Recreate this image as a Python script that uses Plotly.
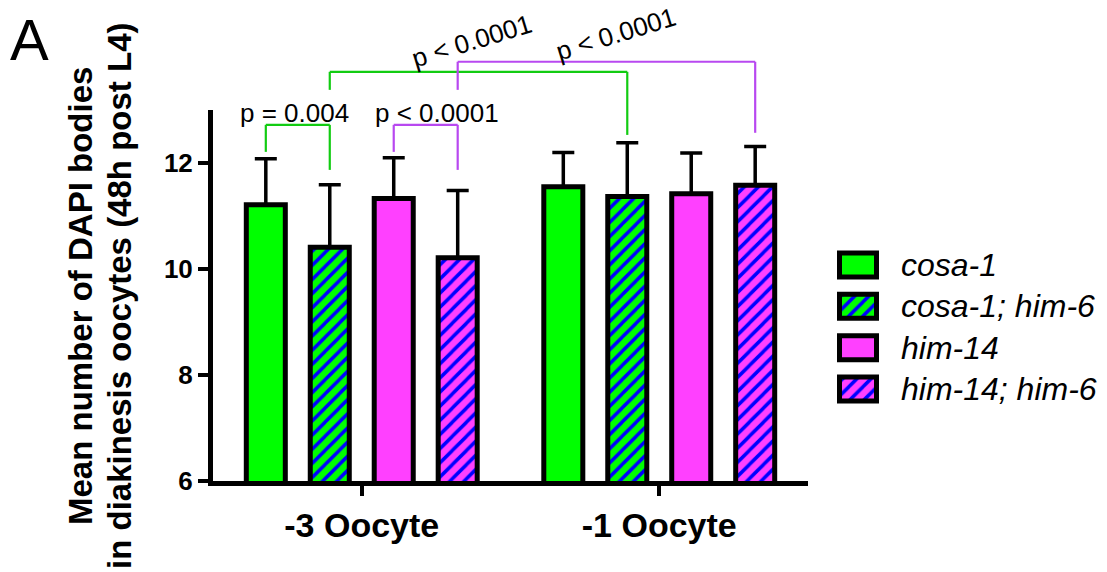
import plotly.graph_objects as go

# ---------------- data ----------------
categories = ["-3 Oocyte", "-1 Oocyte"]
series_names = ["cosa-1", "cosa-1; him-6", "him-14", "him-14; him-6"]
means = {
    "cosa-1":        [11.21, 11.55],
    "cosa-1; him-6": [10.41, 11.37],
    "him-14":        [11.33, 11.42],
    "him-14; him-6": [10.21, 11.58],
}
sds = {
    "cosa-1":        [0.87, 0.65],
    "cosa-1; him-6": [1.18, 1.01],
    "him-14":        [0.77, 0.77],
    "him-14; him-6": [1.27, 0.73],
}
fill_colors = ["#00FF00", "#00FF00", "#FF40FF", "#FF40FF"]
hatched = [False, True, False, True]
y_ticks = [6, 8, 10, 12]
y_range = [6, 13]

# significance annotations: (x_left, x_right, top, left_leg_end, right_leg_end, color, label, label_x, label_y, angle)
GREEN = "#12CC12"
PURPLE = "#B848F0"
brackets = [
    (-0.3225, -0.1075, 12.72, 12.21, 11.87, GREEN, "p = 0.004", -0.225, 12.94, 0),
    (0.1075, 0.3225, 12.72, 12.21, 11.87, PURPLE, "p < 0.0001", 0.252, 12.94, 0),
    (-0.1075, 0.8925, 13.72, 13.38, 12.53, GREEN, "p < 0.0001", 0.37, 14.30, -17),
    (0.3225, 1.3225, 13.91, 13.38, 12.57, PURPLE, "p < 0.0001", 0.854, 14.44, -17),
]

FONT = "Liberation Sans, Arial, sans-serif"
W, H = 1107, 572
L, R, T, B = 213, 20, 110, 91
plot_w = W - L - R
main_right_px = 808
legend_rows_px = (244.3, 409.7)


def px_to_paper_x(px):
    return (px - L) / plot_w


def px_to_paper_y(py):
    return (H - B - py) / (H - T - B)


def val_to_paper_y(v):
    return (v - y_range[0]) / (y_range[1] - y_range[0])


fig = go.Figure()

for name, col, hat in zip(series_names, fill_colors, hatched):
    marker = dict(color=col, line=dict(color="black", width=5))
    if hat:
        marker["pattern"] = dict(shape="/", fgcolor="#0000FF", bgcolor=col,
                                 size=10, solidity=0.35, fillmode="replace")
    fig.add_trace(go.Bar(
        name=name, x=categories, y=means[name],
        marker=marker,
        error_y=dict(type="data", array=sds[name], arrayminus=[0] * len(categories),
                     symmetric=False, color="black", thickness=3.5, width=11),
        showlegend=False,
    ))

# legend swatches as bars on an auxiliary axis
for i, (name, col, hat) in enumerate(zip(series_names, fill_colors, hatched)):
    marker = dict(color=col, line=dict(color="black", width=5))
    if hat:
        marker["pattern"] = dict(shape="/", fgcolor="#0000FF", bgcolor=col,
                                 size=10, solidity=0.35, fillmode="replace")
    fig.add_trace(go.Bar(
        x=[1], y=[i], base=0, orientation="h", width=0.58,
        marker=marker, xaxis="x2", yaxis="y2", showlegend=False, hoverinfo="skip",
    ))
    fig.add_annotation(
        x=px_to_paper_x(899), xref="paper", y=i, yref="y2",
        text="<i>" + name + "</i>", showarrow=False, xanchor="left", yanchor="middle",
        font=dict(family=FONT, size=32, color="black"),
    )

shapes = []
for (x0, x1, top, l_end, r_end, colr, label, lx, ly, ang) in brackets:
    path_pts = [(x0, l_end), (x0, top), (x1, top), (x1, r_end)]
    for (a, b), (c, d) in zip(path_pts[:-1], path_pts[1:]):
        shapes.append(dict(type="line", xref="x", yref="paper",
                           x0=a, x1=c, y0=val_to_paper_y(b), y1=val_to_paper_y(d),
                           line=dict(color=colr, width=2.2)))
    fig.add_annotation(
        x=lx, xref="x", y=val_to_paper_y(ly), yref="paper",
        text=label, showarrow=False, textangle=ang,
        xanchor="center", yanchor="middle",
        font=dict(family=FONT, size=26, color="black"),
    )

# panel letter
fig.add_annotation(x=px_to_paper_x(29), y=px_to_paper_y(39), xref="paper", yref="paper",
                   text="A", showarrow=False, xanchor="center", yanchor="middle",
                   font=dict(family=FONT, size=58, color="black"))
# y title (two lines)
for txt, cx in [("Mean number of DAPI bodies", 80), ("in diakinesis oocytes (48h post L4)", 119)]:
    fig.add_annotation(x=px_to_paper_x(cx), y=px_to_paper_y(296), xref="paper", yref="paper",
                       text=txt, showarrow=False, textangle=-90,
                       xanchor="center", yanchor="middle",
                       font=dict(family=FONT, size=33, color="black", weight="bold"))

lx0 = px_to_paper_x(835.8)
lx1 = px_to_paper_x(880.2)

fig.update_layout(
    width=W, height=H,
    margin=dict(l=L, r=R, t=T, b=B),
    paper_bgcolor="white", plot_bgcolor="white",
    barmode="group", bargap=0.14, bargroupgap=0.39,
    shapes=shapes,
    xaxis=dict(domain=[0, px_to_paper_x(main_right_px)], range=[-0.5, 1.5],
               showline=True, linecolor="black", linewidth=5,
               ticks="outside", ticklen=10, tickwidth=4, tickcolor="black",
               tickfont=dict(family=FONT, size=34, color="black", weight="bold"),
               showgrid=False, zeroline=False, fixedrange=True),
    yaxis=dict(range=y_range, tickvals=y_ticks,
               showline=True, linecolor="black", linewidth=5,
               ticks="outside", ticklen=10, tickwidth=4, tickcolor="black",
               tickfont=dict(family=FONT, size=26, color="black", weight="bold"),
               showgrid=False, zeroline=False, fixedrange=True),
    xaxis2=dict(domain=[lx0, lx1], range=[-0.1, 1.1], anchor="y2", visible=False,
                fixedrange=True),
    yaxis2=dict(domain=[px_to_paper_y(legend_rows_px[1]), px_to_paper_y(legend_rows_px[0])],
                range=[3.5, -0.5], anchor="x2", visible=False, fixedrange=True),
    showlegend=False,
)

fig.write_html("out.html")
